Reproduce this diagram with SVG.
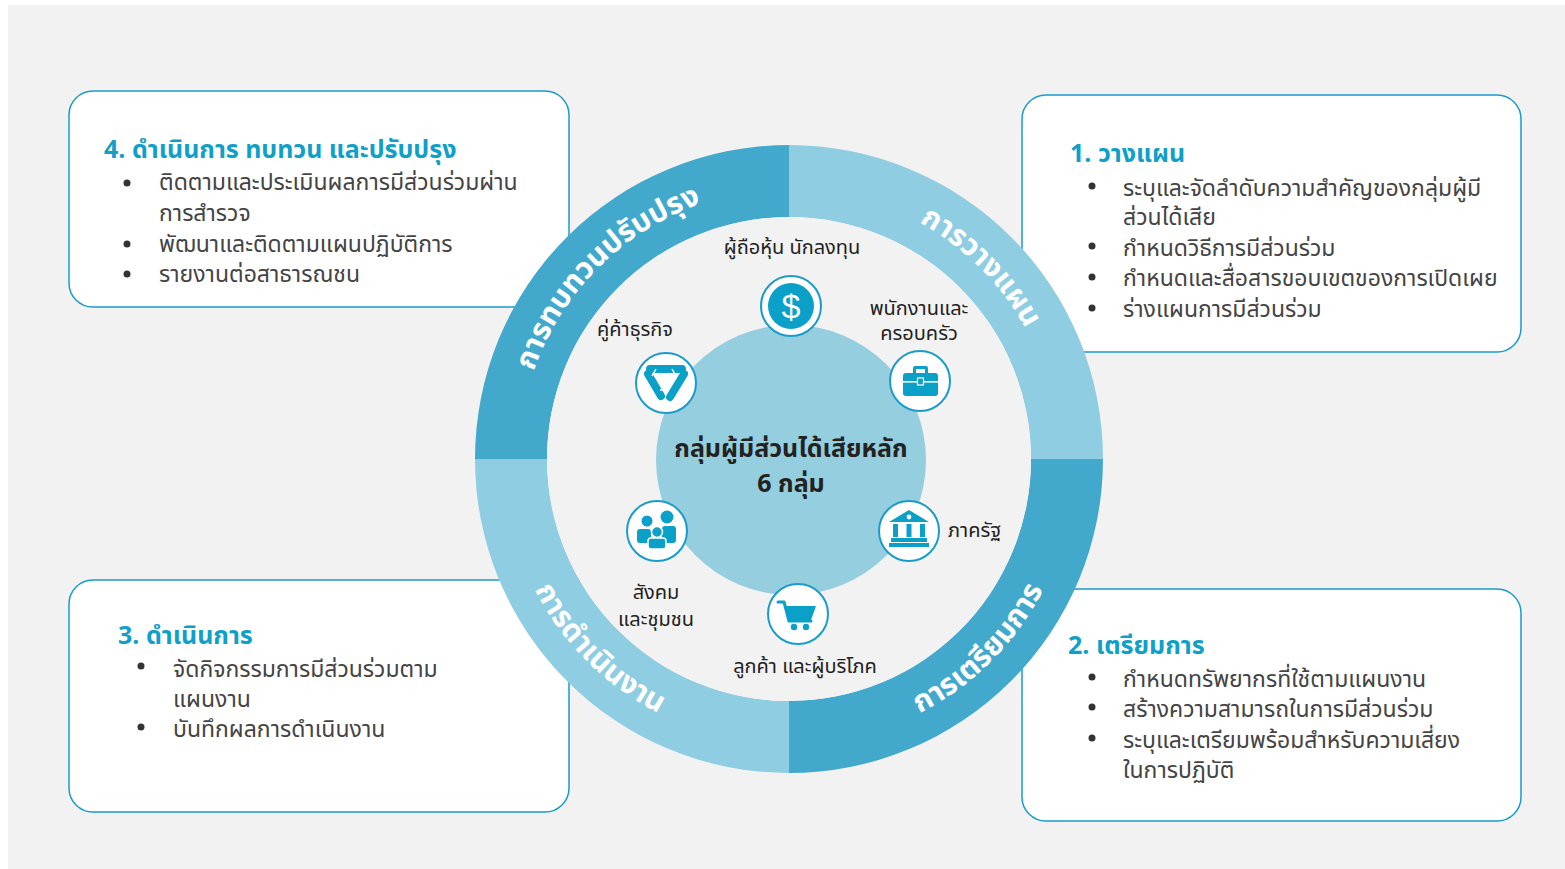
<svg xmlns="http://www.w3.org/2000/svg" width="1565" height="869" viewBox="0 0 1565 869">
<style>
text{font-family:'Noto Sans Thai','Noto Sans','DejaVu Sans',sans-serif}
.box{fill:#ffffff;stroke:#1a9ccb;stroke-width:1.5}
.title{font-size:25px;font-weight:bold;fill:#0fa0c9}
.item{font-size:23px;fill:#444444}
.dot{fill:#333333}
.ring{font-size:30px;font-weight:bold;fill:#ffffff}
.lbl{font-size:20px;fill:#222222}
.ic{fill:#ffffff;stroke:#1a9ccb;stroke-width:2}
.blue{fill:#0aa0c8}
.center{font-size:25px;font-weight:bold;fill:#222222;text-anchor:middle}
</style>
<defs>
<path id="arcTop" d="M 519,459 A 270 270 0 0 1 1059,459"/>
<path id="arcBot" d="M 503,459 A 286 286 0 0 0 1075,459"/>
</defs>
<rect x="0" y="0" width="1565" height="869" fill="#ffffff"/>
<rect x="8" y="5" width="1557" height="864" fill="#f2f2f2"/>

<g id="box4">
<rect class="box" x="69" y="91" width="500" height="216" rx="24"/>
<text class="title" x="104" y="158">4. ดำเนินการ ทบทวน และปรับปรุง</text>
<circle class="dot" cx="127" cy="183" r="3.5"/>
<text class="item" x="159" y="190">ติดตามและประเมินผลการมีส่วนร่วมผ่าน</text>
<text class="item" x="159" y="221">การสำรวจ</text>
<circle class="dot" cx="127" cy="244" r="3.5"/>
<text class="item" x="159" y="252">พัฒนาและติดตามแผนปฏิบัติการ</text>
<circle class="dot" cx="127" cy="274" r="3.5"/>
<text class="item" x="159" y="282">รายงานต่อสาธารณชน</text>
</g>

<g id="box1">
<rect class="box" x="1022" y="95" width="499" height="257" rx="24"/>
<text class="title" x="1070" y="162">1. วางแผน</text>
<circle class="dot" cx="1092" cy="186" r="3.5"/>
<text class="item" x="1123" y="196">ระบุและจัดลำดับความสำคัญของกลุ่มผู้มี</text>
<text class="item" x="1123" y="225">ส่วนได้เสีย</text>
<circle class="dot" cx="1092" cy="246" r="3.5"/>
<text class="item" x="1123" y="256">กำหนดวิธีการมีส่วนร่วม</text>
<circle class="dot" cx="1092" cy="277" r="3.5"/>
<text class="item" x="1123" y="286">กำหนดและสื่อสารขอบเขตของการเปิดเผย</text>
<circle class="dot" cx="1092" cy="308" r="3.5"/>
<text class="item" x="1123" y="317">ร่างแผนการมีส่วนร่วม</text>
</g>

<g id="box3">
<rect class="box" x="69" y="580" width="500" height="232" rx="24"/>
<text class="title" x="118" y="644">3. ดำเนินการ</text>
<circle class="dot" cx="141" cy="666" r="3.5"/>
<text class="item" x="173" y="677">จัดกิจกรรมการมีส่วนร่วมตาม</text>
<text class="item" x="173" y="707">แผนงาน</text>
<circle class="dot" cx="141" cy="727" r="3.5"/>
<text class="item" x="173" y="737">บันทึกผลการดำเนินงาน</text>
</g>

<g id="box2">
<rect class="box" x="1022" y="589" width="499" height="232" rx="24"/>
<text class="title" x="1068" y="654">2. เตรียมการ</text>
<circle class="dot" cx="1092" cy="677" r="3.5"/>
<text class="item" x="1123" y="687">กำหนดทรัพยากรที่ใช้ตามแผนงาน</text>
<circle class="dot" cx="1092" cy="707" r="3.5"/>
<text class="item" x="1123" y="717">สร้างความสามารถในการมีส่วนร่วม</text>
<circle class="dot" cx="1092" cy="738" r="3.5"/>
<text class="item" x="1123" y="748">ระบุและเตรียมพร้อมสำหรับความเสี่ยง</text>
<text class="item" x="1123" y="778">ในการปฏิบัติ</text>
</g>

<g id="ring">
<path d="M 475,459 A 314 314 0 0 1 789,145 L 789,217 A 242 242 0 0 0 547,459 Z" fill="#43a9cc"/>
<path d="M 789,145 A 314 314 0 0 1 1103,459 L 1031,459 A 242 242 0 0 0 789,217 Z" fill="#8ecde2"/>
<path d="M 1103,459 A 314 314 0 0 1 789,773 L 789,701 A 242 242 0 0 0 1031,459 Z" fill="#43a9cc"/>
<path d="M 789,773 A 314 314 0 0 1 475,459 L 547,459 A 242 242 0 0 0 789,701 Z" fill="#8ecde2"/>
<circle cx="789" cy="459" r="242" fill="#f2f2f2"/>
<text class="ring"><textPath href="#arcTop" startOffset="25%" text-anchor="middle">การทบทวนปรับปรุง</textPath></text>
<text class="ring"><textPath href="#arcTop" startOffset="75%" text-anchor="middle">การวางแผน</textPath></text>
<text class="ring"><textPath href="#arcBot" startOffset="25%" text-anchor="middle">การดำเนินงาน</textPath></text>
<text class="ring"><textPath href="#arcBot" startOffset="75%" text-anchor="middle">การเตรียมการ</textPath></text>
</g>

<g id="core">
<circle cx="791" cy="460" r="135" fill="#94cedf"/>
<text class="center" x="791" y="457">กลุ่มผู้มีส่วนได้เสียหลัก</text>
<text class="center" x="791" y="492">6  กลุ่ม</text>
</g>

<g id="shareholders">
<circle class="ic" cx="791" cy="306" r="30"/>
<circle class="blue" cx="791" cy="306" r="23"/>
<text x="791" y="318" font-size="34" fill="#ffffff" text-anchor="middle" style="font-family:'Liberation Sans',sans-serif">$</text>
<text class="lbl" x="792" y="254" text-anchor="middle">ผู้ถือหุ้น นักลงทุน</text>
</g>

<g id="employees">
<circle class="ic" cx="920" cy="381" r="30"/>
<path class="blue" d="M 913,373 L 913,368 Q 913,366 915,366 L 926,366 Q 928,366 928,368 L 928,373 L 925,373 L 925,369 L 916,369 L 916,373 Z"/>
<rect class="blue" x="903" y="373" width="35" height="23" rx="3"/>
<rect x="903" y="381" width="35" height="1.6" fill="#ffffff"/>
<rect class="blue" x="917.5" y="378" width="6" height="7" stroke="#ffffff" stroke-width="1.2"/>
<text class="lbl" x="919" y="315" text-anchor="middle">พนักงานและ</text>
<text class="lbl" x="919" y="340" text-anchor="middle">ครอบครัว</text>
</g>

<g id="government">
<circle class="ic" cx="909" cy="531" r="30"/>
<path class="blue" d="M 909,510 L 929,522 L 889,522 Z"/>
<circle cx="909" cy="517" r="2.4" fill="#ffffff"/>
<rect class="blue" x="893" y="524" width="5" height="13"/>
<rect class="blue" x="906.5" y="524" width="5" height="13"/>
<rect class="blue" x="920" y="524" width="5" height="13"/>
<rect class="blue" x="891" y="538" width="36" height="4"/>
<rect class="blue" x="889" y="543" width="40" height="4"/>
<text class="lbl" x="948" y="537">ภาครัฐ</text>
</g>

<g id="customers">
<circle class="ic" cx="798" cy="614" r="30"/>
<path d="M 778,602 L 784,602 L 789,621 L 811,621" fill="none" stroke="#0aa0c8" stroke-width="3" stroke-linejoin="round" stroke-linecap="round"/>
<path class="blue" d="M 785,606 L 816,606 L 811,620 L 789,620 Z"/>
<circle class="blue" cx="794" cy="627" r="3.2"/>
<circle class="blue" cx="806" cy="627" r="3.2"/>
<text class="lbl" x="805" y="673" text-anchor="middle">ลูกค้า และผู้บริโภค</text>
</g>

<g id="community">
<circle class="ic" cx="657" cy="531" r="30"/>
<circle class="blue" cx="647" cy="521" r="5.5"/>
<circle class="blue" cx="667" cy="517" r="6.5"/>
<rect class="blue" x="637" y="529" width="14" height="14" rx="3"/>
<rect class="blue" x="662" y="526" width="14" height="17" rx="3"/>
<circle class="blue" cx="657" cy="532" r="5.5" stroke="#ffffff" stroke-width="1.5"/>
<rect class="blue" x="648" y="538" width="18" height="11" rx="3" stroke="#ffffff" stroke-width="1.5"/>
<text class="lbl" x="656" y="599" text-anchor="middle">สังคม</text>
<text class="lbl" x="656" y="626" text-anchor="middle">และชุมชน</text>
</g>

<g id="partners">
<circle class="ic" cx="666" cy="383" r="30"/>
<path d="M 650,369 L 682,369" fill="none" stroke="#0aa0c8" stroke-width="8" stroke-linecap="round"/>
<path d="M 648,374 L 661,396" fill="none" stroke="#0aa0c8" stroke-width="8" stroke-linecap="round"/>
<path d="M 684,374 L 670,397" fill="none" stroke="#0aa0c8" stroke-width="8" stroke-linecap="round"/>
<path d="M 656,369 L 652,376 M 672,369 L 676,376 M 660,390 L 668,390" stroke="#ffffff" stroke-width="1.5" fill="none"/>
<text class="lbl" x="635" y="336" text-anchor="middle">คู่ค้าธุรกิจ</text>
</g>
</svg>
